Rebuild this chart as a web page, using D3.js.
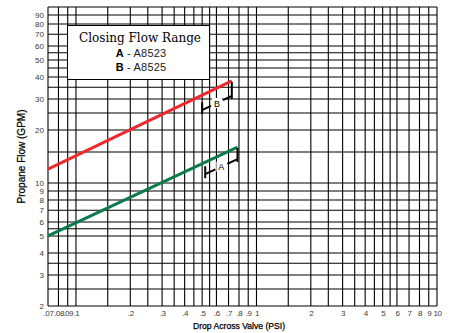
<!DOCTYPE html>
<html>
<head>
<meta charset="utf-8">
<script src="https://cdn.jsdelivr.net/npm/d3@7"></script>
<style>
  html, body { margin: 0; padding: 0; background: #fff; }
  svg { display: block; }
</style>
</head>
<body>
<div id="chart"></div>
<script>
// values
const xTickValues = [0.07, 0.08, 0.09, 0.1, 0.2, 0.3, 0.4, 0.5, 0.6, 0.7, 0.8, 0.9, 1, 2, 3, 4, 5, 6, 7, 8, 9, 10];
const xTickLabels = ['.07', '.08', '.09', '.1', '.2', '.3', '.4', '.5', '.6', '.7', '.8', '.9', '1', '2', '3', '4', '5', '6', '7', '8', '9', '10'];
const xGridValues = [0.07, 0.08, 0.09, 0.1, 0.15, 0.2, 0.25, 0.3, 0.35, 0.4, 0.45, 0.5, 0.55, 0.6, 0.7, 0.8, 0.9,
  1, 1.5, 2, 2.5, 3, 3.5, 4, 4.5, 5, 5.5, 6, 7, 8, 9, 10];
const yTickValues = [2, 3, 4, 5, 6, 7, 8, 9, 10, 20, 30, 40, 50, 60, 70, 80, 90];
const yGridValues = [2, 2.5, 3, 3.5, 4, 5, 5.5, 6, 7, 8, 9, 10, 15, 20, 25, 30, 35, 40, 45, 50, 55, 60, 70, 80, 90, 100];

const psiA = [0.07, 0.785];
const gpmA = [5.0, 16.0];
const psiB = [0.07, 0.73];
const gpmB = [12.0, 38.0];
const rangeA = [0.52, 0.785];
const rangeB = [0.5, 0.73];

const legendTitle = 'Closing Flow Range';
const legendRows = [['A', 'A8523'], ['B', 'A8525']];

const W = 454, H = 333;
const mLeft = 48, mRight = 437, mTop = 7, mBottom = 306;
const sans = 'Liberation Sans, Arial, sans-serif';

const svg = d3.select('#chart').append('svg')
  .attr('width', W).attr('height', H);
svg.append('rect').attr('width', W).attr('height', H).attr('fill', '#fff');

const x = d3.scaleLog().domain([0.07, 10]).range([mLeft, mRight]);
const y = d3.scaleLog().domain([2, 100]).range([mBottom, mTop]);

// grid
const grid = svg.append('g').attr('stroke', '#000').attr('stroke-width', 1.1);
grid.selectAll('.vg').data(xGridValues).enter().append('line')
  .attr('class', 'vg')
  .attr('x1', d => x(d)).attr('x2', d => x(d))
  .attr('y1', mTop).attr('y2', mBottom);
grid.selectAll('.hg').data(yGridValues).enter().append('line')
  .attr('class', 'hg')
  .attr('x1', mLeft).attr('x2', mRight)
  .attr('y1', d => y(d)).attr('y2', d => y(d));

// axes (labels only, no domain/ticks)
const xAxis = svg.append('g')
  .attr('transform', 'translate(0,' + mBottom + ')')
  .call(d3.axisBottom(x).tickValues(xTickValues).tickFormat((d, i) => xTickLabels[i]).tickSize(0).tickPadding(4));
const yAxis = svg.append('g')
  .attr('transform', 'translate(' + mLeft + ',0)')
  .call(d3.axisLeft(y).tickValues(yTickValues).tickFormat(d3.format('d')).tickSize(0).tickPadding(4));
[xAxis, yAxis].forEach(a => {
  a.select('.domain').remove();
  a.selectAll('text')
    .attr('font-family', sans)
    .attr('font-size', 8)
    .attr('fill', '#3a3a3a');
});
xAxis.selectAll('text').attr('letter-spacing', -0.4);

svg.append('text')
  .attr('x', 239).attr('y', 329)
  .attr('text-anchor', 'middle')
  .attr('font-family', sans)
  .attr('font-size', 8.6)
  .attr('stroke', '#000').attr('stroke-width', 0.25)
  .text('Drop Across Valve (PSI)');
svg.append('text')
  .attr('transform', 'translate(25,' + (mTop + mBottom) / 2 + ') rotate(-90)')
  .attr('text-anchor', 'middle')
  .attr('font-family', sans)
  .attr('font-size', 10)
  .attr('stroke', '#000').attr('stroke-width', 0.25)
  .text('Propane Flow (GPM)');

// flow lines
const line = d3.line().x(d => x(d[0])).y(d => y(d[1]));
const series = [
  { psi: psiB, gpm: gpmB, color: '#ec2a2e', range: rangeB, label: 'B', off: 15 },
  { psi: psiA, gpm: gpmA, color: '#0c7b4b', range: rangeA, label: 'A', off: 12 }
];
series.forEach(s => {
  svg.append('path')
    .datum(s.psi.map((p, i) => [p, s.gpm[i]]))
    .attr('d', line)
    .attr('fill', 'none')
    .attr('stroke', s.color)
    .attr('stroke-width', 3);
});

// range brackets under each line
function gpmAt(s, p) {
  const t = (Math.log(p) - Math.log(s.psi[0])) / (Math.log(s.psi[1]) - Math.log(s.psi[0]));
  return Math.exp(Math.log(s.gpm[0]) + t * (Math.log(s.gpm[1]) - Math.log(s.gpm[0])));
}
series.forEach(s => {
  const g = svg.append('g').attr('stroke', '#000').attr('stroke-width', 2).attr('fill', 'none');
  const x0 = x(s.range[0]), x1 = x(s.range[1]);
  const l0 = y(gpmAt(s, s.range[0])), l1 = y(gpmAt(s, s.range[1]));
  const d0 = l0 + s.off, d1 = l1 + s.off;
  const mx = (x0 + x1) / 2, my = (d0 + d1) / 2;
  const gap = 6 / (x1 - x0);
  svg.append('rect')
    .attr('x', mx - 5).attr('y', my - 5).attr('width', 10).attr('height', 10)
    .attr('fill', '#fff');
  g.append('line').attr('x1', x0).attr('x2', x0).attr('y1', d0 - 8).attr('y2', d0 + 4);
  g.append('line').attr('x1', x1).attr('x2', x1).attr('y1', l1 + 1).attr('y2', d1 + 3);
  g.append('line').attr('x1', x0).attr('y1', d0)
    .attr('x2', mx - (x1 - x0) * gap).attr('y2', my - (d1 - d0) * gap);
  g.append('line').attr('x1', mx + (x1 - x0) * gap).attr('y1', my + (d1 - d0) * gap)
    .attr('x2', x1).attr('y2', d1);
  svg.append('text')
    .attr('x', mx).attr('y', my + 3.5)
    .attr('text-anchor', 'middle')
    .attr('font-family', sans)
    .attr('font-size', 9)
    .attr('fill', '#000')
    .text(s.label);
});

// legend box
const lg = svg.append('g');
lg.append('rect')
  .attr('x', 67.5).attr('y', 25.5).attr('width', 142).attr('height', 54)
  .attr('fill', '#fff').attr('stroke', '#000').attr('stroke-width', 1);
lg.append('text')
  .attr('x', 140).attr('y', 42)
  .attr('text-anchor', 'middle')
  .attr('font-family', 'DejaVu Serif, serif')
  .attr('font-size', 12)
  .text(legendTitle);
legendRows.forEach((r, i) => {
  const t = lg.append('text')
    .attr('x', 141).attr('y', 57 + i * 13.5)
    .attr('text-anchor', 'middle')
    .attr('font-family', sans)
    .attr('font-size', 11)
    .attr('letter-spacing', 0.2);
  t.append('tspan').attr('font-weight', 'bold').text(r[0]);
  t.append('tspan').attr('fill', '#222').text(' - ' + r[1]);
});
</script>
</body>
</html>
